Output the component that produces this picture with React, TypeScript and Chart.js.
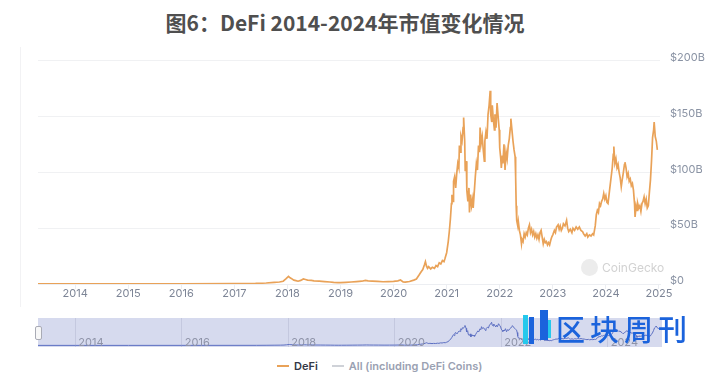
import React, { useEffect, useRef } from "react";
import { Chart, registerables } from "chart.js";

Chart.register(...registerables);

// ---- data (decimal year, market cap in $B) ----
const dates = [
  2013.3, 2014.0, 2015.0, 2016.0, 2017.0, 2017.4, 2017.6, 2017.75, 2017.85, 2017.92, 2017.97,
  2018.02, 2018.05, 2018.08, 2018.12, 2018.16, 2018.2, 2018.25, 2018.3, 2018.34, 2018.38, 2018.45,
  2018.5, 2018.6, 2018.7, 2018.8, 2018.87, 2018.95, 2019.0, 2019.1, 2019.2, 2019.3, 2019.4, 2019.47,
  2019.52, 2019.6, 2019.7, 2019.8, 2019.9, 2020.0, 2020.08, 2020.13, 2020.18, 2020.22, 2020.3, 2020.38,
  2020.43, 2020.48, 2020.52, 2020.55, 2020.58, 2020.6, 2020.62, 2020.64, 2020.66, 2020.7, 2020.73,
  2020.77, 2020.8, 2020.83, 2020.86, 2020.89, 2020.92, 2020.95, 2020.97, 2021.0, 2021.03, 2021.05,
  2021.07, 2021.09, 2021.1, 2021.12, 2021.13, 2021.15, 2021.17, 2021.19, 2021.21, 2021.23, 2021.24,
  2021.26, 2021.27, 2021.29, 2021.31, 2021.32, 2021.34, 2021.35, 2021.37, 2021.38, 2021.4, 2021.42,
  2021.43, 2021.45, 2021.47, 2021.49, 2021.5, 2021.52, 2021.54, 2021.56, 2021.58, 2021.6, 2021.62,
  2021.63, 2021.65, 2021.67, 2021.69, 2021.71, 2021.72, 2021.74, 2021.76, 2021.78, 2021.8, 2021.82,
  2021.83, 2021.85, 2021.86, 2021.88, 2021.9, 2021.91, 2021.93, 2021.95, 2021.97, 2021.99, 2022.0,
  2022.02, 2022.03, 2022.05, 2022.06, 2022.08, 2022.1, 2022.12, 2022.14, 2022.16, 2022.18, 2022.2,
  2022.21, 2022.23, 2022.25, 2022.27, 2022.29, 2022.3, 2022.31, 2022.32, 2022.34, 2022.35, 2022.37,
  2022.39, 2022.41, 2022.42, 2022.44, 2022.46, 2022.48, 2022.5, 2022.52, 2022.54, 2022.56, 2022.58,
  2022.6, 2022.62, 2022.64, 2022.66, 2022.68, 2022.7, 2022.72, 2022.74, 2022.76, 2022.78, 2022.8,
  2022.82, 2022.84, 2022.86, 2022.88, 2022.9, 2022.92, 2022.94, 2022.96, 2022.98, 2023.0, 2023.03,
  2023.05, 2023.07, 2023.1, 2023.12, 2023.14, 2023.16, 2023.18, 2023.2, 2023.23, 2023.26, 2023.28,
  2023.3, 2023.33, 2023.36, 2023.38, 2023.41, 2023.44, 2023.47, 2023.5, 2023.53, 2023.56, 2023.58,
  2023.61, 2023.64, 2023.66, 2023.69, 2023.72, 2023.75, 2023.77, 2023.8, 2023.82, 2023.84, 2023.86,
  2023.88, 2023.9, 2023.92, 2023.94, 2023.96, 2023.98, 2024.0, 2024.02, 2024.04, 2024.06, 2024.08,
  2024.1, 2024.12, 2024.14, 2024.15, 2024.17, 2024.19, 2024.21, 2024.23, 2024.25, 2024.27, 2024.29,
  2024.31, 2024.33, 2024.35, 2024.36, 2024.38, 2024.4, 2024.42, 2024.44, 2024.46, 2024.48, 2024.5,
  2024.52, 2024.54, 2024.55, 2024.57, 2024.59, 2024.6, 2024.62, 2024.64, 2024.66, 2024.68, 2024.7,
  2024.72, 2024.74, 2024.76, 2024.78, 2024.8, 2024.82, 2024.84, 2024.86, 2024.88, 2024.9, 2024.91,
  2024.93, 2024.95, 2024.97,
];

const defiValues = [
  0.1, 0.1, 0.15, 0.2, 0.3, 0.5, 0.9, 1.5, 1.8, 2.5, 4.5,
  6.8, 5.5, 4.8, 3.5, 3.0, 2.5, 3.2, 4.5, 4.0, 3.5, 3.2,
  2.8, 2.6, 2.2, 1.8, 1.4, 1.2, 1.3, 1.5, 1.8, 2.2, 2.5, 3.2,
  2.8, 2.6, 2.3, 2.0, 2.1, 2.3, 2.8, 3.6, 1.8, 1.6, 2.2, 3.5,
  4.5, 8, 11, 13, 17, 20, 16, 14, 15.5, 13.5, 15,
  14, 16.5, 15.5, 19, 18, 21, 20, 23, 28, 38, 47,
  58, 72, 80, 74, 92, 96, 86, 99, 108, 104, 124,
  118, 132, 128, 140, 149, 128, 101, 110, 84, 74, 86,
  64, 80, 70, 76, 68, 82, 96, 108, 102, 124, 118,
  140, 126, 132, 120, 110, 128, 136, 130, 152, 160, 173,
  152, 145, 160, 147, 138, 152, 140, 162, 150, 138, 122,
  112, 104, 115, 108, 125, 102, 118, 112, 124, 130, 140,
  148, 138, 128, 120, 114, 96, 70, 57, 52, 56, 48,
  44, 36, 40, 38, 45, 42, 46, 44, 50, 53, 46,
  49, 44, 47, 42, 45, 41, 44, 40, 46, 48, 42,
  36, 40, 37, 38, 35, 37, 35, 39, 42, 44, 48,
  46, 51, 53, 49, 52, 48, 50, 54, 52, 57, 50,
  47, 49, 46, 50, 48, 51, 49, 51, 48, 47, 45,
  43, 45, 42, 44, 43, 45, 44, 52, 62, 66, 64,
  72, 70, 74, 76, 81, 76, 79, 73, 72, 80, 88,
  96, 104, 116, 123, 108, 112, 104, 107, 100, 95, 87,
  94, 100, 107, 109, 104, 96, 99, 92, 94, 88, 90,
  84, 72, 60, 70, 66, 72, 68, 70, 65, 72, 74,
  78, 72, 76, 68, 70, 82, 93, 110, 131, 138, 145,
  132, 128, 120,
];

const xTickYears = [2014, 2015, 2016, 2017, 2018, 2019, 2020, 2021, 2022, 2023, 2024, 2025];
const navYears = [2014, 2016, 2018, 2020, 2022, 2024];
const yTickValues = [0, 50, 100, 150, 200];
const seriesNames = ["DeFi", "All (including DeFi Coins)"];
const titleText = "图6：DeFi 2014-2024年市值变化情况";

const X_MIN = 2013.3;
const X_MAX = 2025.02;
const LINE_COLOR = "#e9a258";
const AXIS_FONT = { family: "Inter, 'Noto Sans', sans-serif", size: 11 };

export default function App() {
  const mainRef = useRef<HTMLCanvasElement | null>(null);
  const navRef = useRef<HTMLCanvasElement | null>(null);

  useEffect(() => {
    const points = dates.map((d, i) => ({ x: d, y: defiValues[i] }));

    const main = new Chart(mainRef.current as HTMLCanvasElement, {
      type: "line",
      data: {
        datasets: [
          {
            label: seriesNames[0],
            data: points,
            borderColor: LINE_COLOR,
            borderWidth: 1.7,
            pointRadius: 0,
            tension: 0,
            fill: false,
          },
        ],
      },
      options: {
        animation: false,
        responsive: false,
        maintainAspectRatio: false,
        layout: { padding: { left: 38, top: 8, right: 0, bottom: 0 } },
        plugins: { legend: { display: false }, tooltip: { enabled: false } },
        scales: {
          x: {
            type: "linear",
            min: X_MIN,
            max: X_MAX,
            afterBuildTicks: (s: any) => {
              s.ticks = xTickYears.map((v) => ({ value: v }));
            },
            afterFit: (s: any) => {
              s.height = 26;
            },
            ticks: {
              callback: (v: any) => String(v),
              color: "#7d8596",
              font: AXIS_FONT,
              padding: -2,
              maxRotation: 0,
              autoSkip: false,
            },
            grid: { drawOnChartArea: false, tickLength: 5, color: "#eceef2" },
            border: { color: "#eceef2" },
          },
          y: {
            position: "right",
            min: 0,
            max: 200,
            afterBuildTicks: (s: any) => {
              s.ticks = yTickValues.map((v) => ({ value: v }));
            },
            afterFit: (s: any) => {
              s.width = 58;
            },
            ticks: {
              callback: (v: any) => (v === 0 ? "$0" : `$${v}B`),
              color: "#8a93a4",
              font: AXIS_FONT,
              padding: 10,
              labelOffset: -3,
            },
            grid: { color: "#f0f1f3", drawTicks: false },
            border: { display: false },
          },
        },
      },
    });

    const navPlugin = {
      id: "navDecor",
      beforeDraw(chart: any) {
        const { ctx, width, height } = chart;
        ctx.save();
        ctx.fillStyle = "rgb(214,218,238)";
        ctx.fillRect(0, 0, width, height);
        ctx.restore();
      },
      afterDraw(chart: any) {
        const { ctx, chartArea } = chart;
        const xs = chart.scales.x;
        ctx.save();
        ctx.font = "11px Inter, 'Noto Sans', sans-serif";
        ctx.fillStyle = "#8e93a8";
        ctx.textBaseline = "alphabetic";
        navYears.forEach((yr) => {
          const px = xs.getPixelForValue(yr);
          ctx.fillText(String(yr), px + 3, chartArea.bottom - 1);
        });
        ctx.restore();
      },
    };

    const nav = new Chart(navRef.current as HTMLCanvasElement, {
      type: "line",
      data: {
        datasets: [
          {
            label: seriesNames[0],
            data: points,
            borderColor: "#5c6fc2",
            borderWidth: 1,
            pointRadius: 0,
            tension: 0,
            fill: false,
          },
        ],
      },
      options: {
        animation: false,
        responsive: false,
        maintainAspectRatio: false,
        layout: { padding: 0 },
        plugins: { legend: { display: false }, tooltip: { enabled: false } },
        scales: {
          x: {
            type: "linear",
            min: X_MIN,
            max: X_MAX,
            afterBuildTicks: (s: any) => {
              s.ticks = navYears.map((v) => ({ value: v }));
            },
            afterFit: (s: any) => {
              s.height = 0;
            },
            ticks: { display: false },
            grid: { drawTicks: false, color: "#c4c8df", lineWidth: 1 },
            border: { display: false },
          },
          y: {
            display: false,
            min: -12,
            max: 205,
          },
        },
      },
      plugins: [navPlugin],
    });

    return () => {
      main.destroy();
      nav.destroy();
    };
  }, []);

  return (
    <div
      style={{
        position: "absolute",
        left: 0,
        top: 0,
        width: 718,
        height: 380,
        background: "#ffffff",
        overflow: "hidden",
        fontFamily: "Inter, 'Noto Sans', sans-serif",
      }}
    >
      <div
        style={{
          position: "absolute",
          left: 0,
          top: 8,
          width: 690,
          textAlign: "center",
          fontFamily: "'Noto Sans CJK SC', 'Noto Sans', sans-serif",
          fontWeight: 700,
          fontSize: 21,
          lineHeight: "28px",
          color: "#4f4f4f",
        }}
      >
        {titleText}
      </div>

      <div
        style={{
          position: "absolute",
          left: 20,
          top: 47,
          width: 1,
          height: 260,
          background: "#f2f2f4",
        }}
      />

      <canvas
        ref={mainRef}
        width={718}
        height={266}
        style={{ position: "absolute", left: 0, top: 44, width: 718, height: 266 }}
      />

      <div
        style={{
          position: "absolute",
          left: 581,
          top: 259,
          display: "flex",
          alignItems: "center",
          gap: 4,
          color: "#d2d2d2",
          fontSize: 12,
        }}
      >
        <div
          style={{
            width: 17,
            height: 17,
            borderRadius: "50%",
            background: "#ececec",
          }}
        />
        <span>CoinGecko</span>
      </div>

      <canvas
        ref={navRef}
        width={624}
        height={29}
        style={{ position: "absolute", left: 38, top: 318, width: 624, height: 29 }}
      />
      <div
        style={{
          position: "absolute",
          left: 35,
          top: 326,
          width: 5,
          height: 12,
          background: "#f7f7f7",
          border: "1px solid #a9abb5",
          borderRadius: 2,
        }}
      />

      {/* watermark logo */}
      <div style={{ position: "absolute", left: 523, top: 315, width: 5, height: 29, background: "#25c8ec" }} />
      <div style={{ position: "absolute", left: 529, top: 317, width: 5, height: 27, background: "#1b63dc" }} />
      <div style={{ position: "absolute", left: 540, top: 310, width: 8, height: 30, background: "#1b63dc" }} />
      <div style={{ position: "absolute", left: 548, top: 320, width: 3, height: 18, background: "#25c8ec" }} />
      <div
        style={{
          position: "absolute",
          left: 556,
          top: 309,
          fontFamily: "'Noto Sans CJK SC', sans-serif",
          fontSize: 29,
          fontWeight: 500,
          lineHeight: "38px",
          letterSpacing: 5,
          color: "#1b63dc",
          whiteSpace: "nowrap",
        }}
      >
        区块周刊
      </div>

      {/* legend */}
      <div
        style={{
          position: "absolute",
          left: 277,
          top: 358,
          height: 16,
          display: "flex",
          alignItems: "center",
          fontSize: 11,
          fontWeight: 600,
          whiteSpace: "nowrap",
        }}
      >
        <div style={{ width: 12, height: 2, background: LINE_COLOR, marginRight: 5 }} />
        <span style={{ color: "#333846", marginRight: 14 }}>{seriesNames[0]}</span>
        <div style={{ width: 12, height: 2, background: "#cfd2d8", marginRight: 5 }} />
        <span style={{ color: "#9aa1b2" }}>{seriesNames[1]}</span>
      </div>
    </div>
  );
}
